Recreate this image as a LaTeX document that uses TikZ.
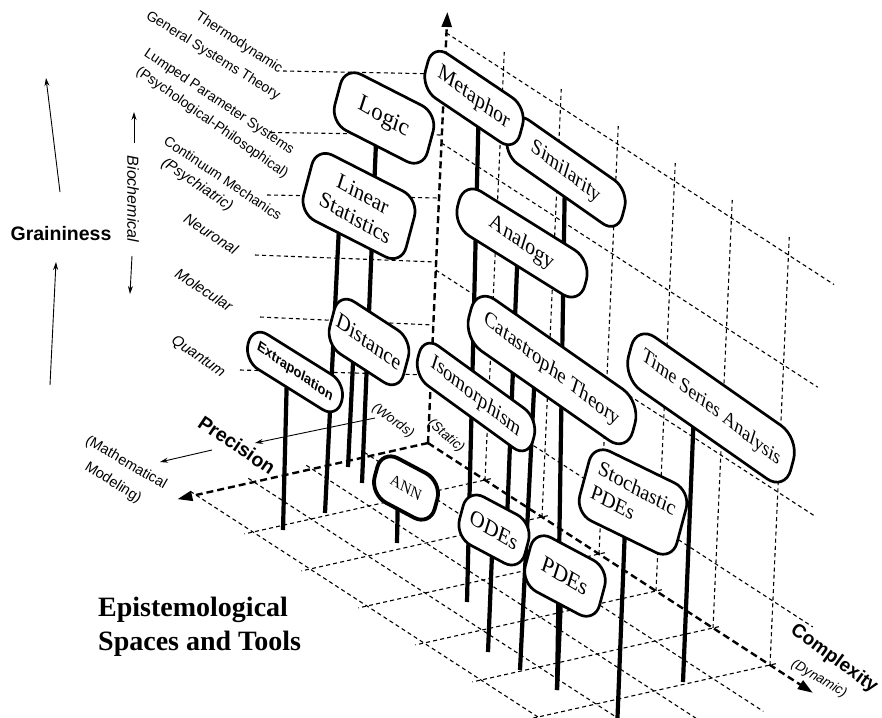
\documentclass[tikz,border=0pt]{standalone}
\usepackage{fontspec}
\setmainfont{Liberation Serif}
\setsansfont{Liberation Sans}
\usetikzlibrary{arrows.meta}

\tikzset{
  axisline/.style={line width=2.4pt, dash pattern=on 7pt off 4pt},
  gridline/.style={line width=1.1pt, dash pattern=on 4pt off 3.2pt},
  pole/.style={line width=4.2pt},
  signframe/.style={draw, fill=white, line width=2.7pt, rounded corners=18pt},
  signtext/.style={inner sep=0pt, align=center, transform shape, rotate=-3},
  axislabel/.style={font=\sffamily\bfseries\fontsize{19.5}{22}\selectfont, inner sep=0pt},
  levellabel/.style={font=\sffamily\fontsize{14}{16}\selectfont, inner sep=0pt},
  levelitalic/.style={font=\sffamily\itshape\fontsize{15}{17}\selectfont, inner sep=0pt},
  notelabel/.style={font=\sffamily\itshape\fontsize{13.5}{15}\selectfont, inner sep=0pt},
  thinarrow/.style={line width=0.9pt, -{Stealth[length=8pt,width=5pt]}},
  axistip/.style={-{Triangle[length=15pt,width=10pt]}},
}

% a sign board seen obliquely: #1 name, #2,#3 centre, #4 tilt of the long edges,
% #5 length, #6 height, #7 extra frame options, #8 font, #9 text
\newcommand\signbox[9]{%
  \pgfmathsetmacro\sbA{cos(#4)}%
  \pgfmathsetmacro\sbB{-sin(#4)}%
  \pgfmathsetmacro\sbC{sin(15)}%
  \pgfmathsetmacro\sbD{cos(15)}%
  \begin{scope}[shift={(#2,#3)}, cm={\sbA,\sbB,\sbC,\sbD,(0,0)}, x=1pt, y=1pt]
    \draw[signframe,#7] ({-(#5)/2},{-(#6)/2}) rectangle ({(#5)/2},{(#6)/2});
    \node[signtext, font=#8] (#1) at (0,0) {#9};
  \end{scope}}

\newcommand\serifsize[1]{\fontsize{#1}{1.3\dimexpr #1pt\relax}\selectfont}

\begin{document}
\begin{tikzpicture}[x=1pt, y=-1pt]
\useasboundingbox (0,0) rectangle (882,717);
\fill[white] (0,0) rectangle (882,717);

% ---------- floor, back wall and axes ----------
\begin{scope}[shift={(428,443)}, x={(57pt,-37pt)}, y={(-58pt,-13pt)}, z={(0.045pt,1pt)}]
  \foreach \p in {1,2,3,4} \draw[gridline] (-0.1,\p,0) -- (6.9,\p,0);
  \foreach \c in {1,...,6} \draw[gridline] (\c,-0.1,0) -- (\c,4.15,0);
  \foreach \c in {1,...,6} \draw[gridline] (\c,0,0) -- (\c,0,428);
  \foreach \h/\e in {64/6.7,173/6.65,300/6.6,410/6.8} \draw[gridline] (0,0,\h) -- (\e,0,\h);
  \coordinate (origin) at (0,0,0);
  \coordinate (gtip) at (0,0,431);
  \coordinate (ptip) at (0,4.32,0);
  \coordinate (ctip) at (6.75,0,0);
\end{scope}
\draw[axisline, axistip] (origin) -- (gtip);
\draw[axisline, axistip] (origin) -- (ptip);
\draw[axisline, axistip] (origin) -- (ctip);

% ---------- level labels on the left ----------
\node[levellabel, rotate=-33] (thermo) at (239,43) {Thermodynamic};
\node[levellabel, rotate=-32] (gst) at (213,56) {General Systems Theory};
\node[levellabel, rotate=-34] (lumped) at (219,102) {Lumped Parameter Systems};
\node[levellabel, rotate=-35] (psyphil) at (212,123) {(Psychological-Philosophical)};
\node[levellabel, rotate=-34] (continuum) at (223,178) {Continuum Mechanics};
\node[levelitalic, rotate=-34] (psychiatric) at (197,185) {(Psychiatric)};
\node[levelitalic, rotate=-33] (neuronal) at (211,234) {Neuronal};
\node[levelitalic, rotate=-33] (molecular) at (204,290) {Molecular};
\node[levelitalic, rotate=-35] (quantum) at (198,357) {Quantum};

\coordinate (l1a) at (283,71);  \coordinate (l1b) at (444,74);
\coordinate (l2a) at (271,132.5); \coordinate (l2b) at (442,135);
\coordinate (l3a) at (267,195); \coordinate (l3b) at (439,198);
\coordinate (l4a) at (255,255); \coordinate (l4b) at (436,262);
\coordinate (l5a) at (260,317); \coordinate (l5b) at (433,325);
\coordinate (l6a) at (240,370); \coordinate (l6b) at (431,375);
\foreach \i in {1,...,6} \draw[gridline] (l\i a) -- (l\i b);

% ---------- graininess ----------
\node[axislabel] (grain) at (61,234) {Graininess};
\coordinate (gu1) at (60,192); \coordinate (gu2) at (46,78);
\coordinate (gd1) at (50,385); \coordinate (gd2) at (56,262);
\draw[thinarrow] (gu1) -- (gu2);
\draw[thinarrow] (gd1) -- (gd2);
\node[font=\sffamily\itshape\fontsize{16}{18}\selectfont, inner sep=0pt, rotate=-90] (bio) at (133,199) {Biochemical};
\coordinate (bu1) at (134,143); \coordinate (bu2) at (134,112);
\coordinate (bd1) at (132,256); \coordinate (bd2) at (130,294);
\draw[thinarrow] (bu1) -- (bu2);
\draw[thinarrow] (bd1) -- (bd2);

% ---------- precision ----------
\node[axislabel, rotate=-34] (prec) at (237,445) {Precision};
\coordinate (pa1) at (375,418); \coordinate (pa2) at (255,443);
\draw[thinarrow] (pa1) -- (pa2);
\coordinate (pb1) at (212,450); \coordinate (pb2) at (160,462);
\draw[thinarrow] (pb1) -- (pb2);
\node[font=\sffamily\fontsize{14.5}{16}\selectfont, inner sep=0pt, rotate=-30] (math1) at (126,463) {(Mathematical};
\node[font=\sffamily\fontsize{14.5}{16}\selectfont, inner sep=0pt, rotate=-32] (math2) at (113,483) {Modeling)};
\node[notelabel, rotate=-36] (words) at (393,421) {(Words)};
\node[notelabel, rotate=-40] (static) at (446,436) {(Static)};

% ---------- complexity ----------
\node[axislabel, rotate=-36, font=\sffamily\bfseries\fontsize{19}{22}\selectfont] (compl) at (834,659) {Complexity};
\node[notelabel, rotate=-30] (dyn) at (819,679) {(Dynamic)};

% ---------- title ----------
\node[font=\bfseries\fontsize{28}{34}\selectfont, inner sep=0pt, anchor=base west] (title1) at (98,616) {Epistemological};
\node[font=\bfseries\fontsize{28}{34}\selectfont, inner sep=0pt, anchor=base west] (title2) at (98,650) {Spaces and Tools};

% ---------- sign boards with their posts, back to front ----------
\coordinate (logic-top) at (377,118); \coordinate (logic-foot) at (362,483);
\draw[pole] (logic-top) -- (logic-foot);
\signbox{logic}{384}{118}{27}{104}{58}{}{\serifsize{24}}{Logic}

\coordinate (sim-top) at (565,172); \coordinate (sim-foot) at (557,690);
\draw[pole] (sim-top) -- (sim-foot);
\signbox{similarity}{566}{172}{35}{140}{45}{}{\serifsize{21}}{Similarity}

\coordinate (meta-top) at (479,98); \coordinate (meta-foot) at (467,602);
\draw[pole] (meta-top) -- (meta-foot);
\signbox{metaphor}{474}{98}{34}{114}{46}{}{\serifsize{22}}{Metaphor}

\coordinate (lin-top) at (340,206); \coordinate (lin-foot) at (325,513);
\draw[pole] (lin-top) -- (lin-foot);
\signbox{linstat}{359}{206}{27}{115}{68}{}{\serifsize{22}}{Linear\\[-3pt]Statistics}

\coordinate (ana-top) at (518,243); \coordinate (ana-foot) at (506,545);
\draw[pole] (ana-top) -- (ana-foot);
\signbox{analogy}{522}{243}{32}{150}{46}{rounded corners=20pt}{\serifsize{22}}{Analogy}

\coordinate (cat-top) at (535,370); \coordinate (cat-foot) at (520,670);
\draw[pole] (cat-top) -- (cat-foot);
\signbox{catastrophe}{552}{370}{35}{200}{53}{rounded corners=22pt}{\serifsize{21}}{Catastrophe Theory}

\coordinate (ts-top) at (694,410); \coordinate (ts-foot) at (683,682);
\draw[pole] (ts-top) -- (ts-foot);
\signbox{timeseries}{711}{408}{35}{198}{55}{rounded corners=22pt}{\serifsize{20}}{Time Series Analysis}

\coordinate (dist-top) at (354,342); \coordinate (dist-foot) at (348,467);
\draw[pole] (dist-top) -- (dist-foot);
\signbox{distance}{369}{342}{33}{88}{54}{}{\serifsize{22}}{Distance}

\coordinate (ext-top) at (287,372); \coordinate (ext-foot) at (283,530);
\draw[pole] (ext-top) -- (ext-foot);
\signbox{extrapolation}{295}{372}{32}{110}{36}{rounded corners=17pt}{\sffamily\bfseries\fontsize{14}{16}\selectfont}{Extrapolation}

\signbox{isomorphism}{476}{397}{36}{142}{41}{}{\serifsize{21}}{Isomorphism}

\coordinate (sto-top) at (626,502); \coordinate (sto-foot) at (617,730);
\draw[pole] (sto-top) -- (sto-foot);
\signbox{stochastic}{633}{502}{26}{108}{72}{}{\fontsize{21}{25}\selectfont}{\begin{tabular}{@{}l@{}}Stochastic\\PDEs\end{tabular}}

\coordinate (ode-top) at (493,530); \coordinate (ode-foot) at (488,652);
\draw[pole] (ode-top) -- (ode-foot);
\signbox{odes}{494}{530}{28}{74}{50}{}{\serifsize{22}}{ODEs}

\coordinate (ann-top) at (398,488); \coordinate (ann-foot) at (397,543);
\draw[pole] (ann-top) -- (ann-foot);
\signbox{ann}{406}{488}{28}{68}{46}{line width=3.8pt}{\serifsize{16}}{ANN}

\coordinate (pde-top) at (562,576); \coordinate (pde-foot) at (557,690);
\draw[pole] (pde-top) -- (pde-foot);
\signbox{pdes}{565}{576}{28}{84}{56}{}{\serifsize{23}}{PDEs}
\end{tikzpicture}
\end{document}
